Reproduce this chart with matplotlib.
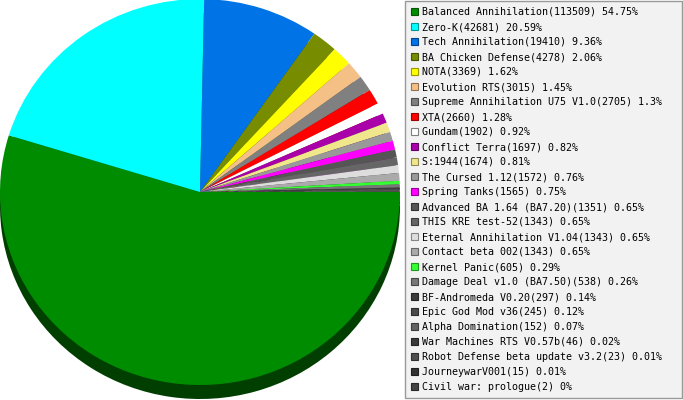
import matplotlib
matplotlib.use('Agg')
import matplotlib.pyplot as plt
from matplotlib.patches import Rectangle
from matplotlib.colors import to_rgb

games = ["Balanced Annihilation", "Zero-K", "Tech Annihilation", "BA Chicken Defense",
         "NOTA", "Evolution RTS", "Supreme Annihilation U75 V1.0", "XTA", "Gundam",
         "Conflict Terra", "S:1944", "The Cursed 1.12", "Spring Tanks",
         "Advanced BA 1.64 (BA7.20)", "THIS KRE test-52", "Eternal Annihilation V1.04",
         "Contact beta 002", "Kernel Panic", "Damage Deal v1.0 (BA7.50)",
         "BF-Andromeda V0.20", "Epic God Mod v36", "Alpha Domination",
         "War Machines RTS V0.57b", "Robot Defense beta update v3.2", "JourneywarV001",
         "Civil war: prologue"]
players = [113509, 42681, 19410, 4278, 3369, 3015, 2705, 2660, 1902, 1697, 1674, 1572,
           1565, 1351, 1343, 1343, 1343, 605, 538, 297, 245, 152, 46, 23, 15, 2]
colors = ["#008c00", "#00ffff", "#0073e6", "#788c00", "#ffff00", "#f5c085", "#808080",
          "#ff0000", "#ffffff", "#aa00aa", "#f0e68c", "#999999", "#ff00ff", "#555555",
          "#666666", "#dddddd", "#aaaaaa", "#33ff33", "#777777", "#3c3c3c", "#4a4a4a",
          "#646464", "#3a3a3a", "#505050", "#333333", "#444444"]

W, H = 683, 400
cx, cy = 200, 192      # pie centre in pixels (y from top)
rx, ry = 200, 193      # slightly flattened pie
depth = 14             # thickness of the pseudo-3d side

fig = plt.figure(figsize=(W / 100, H / 100), dpi=100)
fig.patch.set_facecolor('white')

# pie axes, one x unit = rx px, one y unit = ry px
ax = fig.add_axes([0, 0, 1, 1])
dark = [tuple(c * 0.45 for c in to_rgb(col)) for col in colors]
ax.pie(players, colors=dark, startangle=0, counterclock=False, radius=1,
       center=(0, -depth / ry), wedgeprops=dict(linewidth=0))
ax.pie(players, colors=colors, startangle=0, counterclock=False, radius=1,
       center=(0, 0), wedgeprops=dict(linewidth=0))
ax.set_aspect('auto')
ax.set_xlim(-cx / rx, (W - cx) / rx)
ax.set_ylim(-(H - cy) / ry, cy / ry)
ax.axis('off')

# legend drawn in pixel coordinates
lg = fig.add_axes([0, 0, 1, 1])
lg.set_xlim(0, W)
lg.set_ylim(H, 0)
lg.axis('off')
lg.add_patch(Rectangle((404.5, 0.5), 277, 397, facecolor='#f2f2f2',
                       edgecolor='#999999', linewidth=1))

total = sum(players)
for i, (name, n, col) in enumerate(zip(games, players, colors)):
    y = 12 + 15 * i
    edge = tuple(c * 0.6 for c in to_rgb(col))
    if col == "#ffffff":
        edge = (0.5, 0.5, 0.5)
    lg.add_patch(Rectangle((411, y - 4), 7, 7, facecolor=col, edgecolor=edge, linewidth=0.8))
    pct = '{:g}'.format(round(n / total * 100, 2))
    lg.text(422, y, '{}({}) {}%'.format(name, n, pct), fontsize=7.2,
            family='DejaVu Sans Mono', va='center', ha='left', color='black')

fig.savefig('out.png', dpi=100)
